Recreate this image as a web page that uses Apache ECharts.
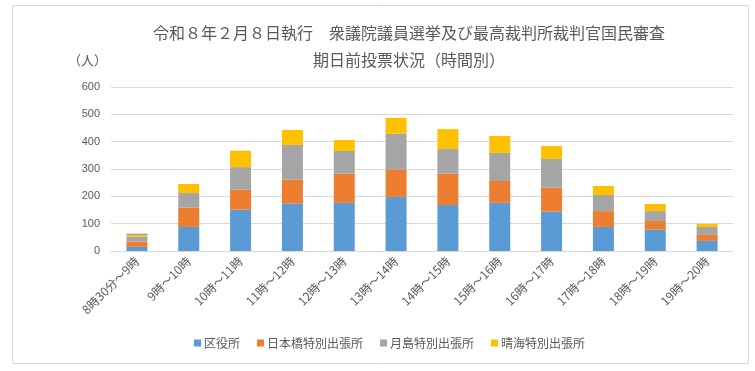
<!DOCTYPE html>
<html><head><meta charset="utf-8">
<script src="https://cdn.jsdelivr.net/npm/echarts@6/dist/echarts.min.js"></script>
<style>html,body{margin:0;padding:0;background:#fff}#c{width:755px;height:371px}</style>
</head><body><div id="c"></div>
<script>
const categories = ['8時30分～9時','9時～10時','10時～11時','11時～12時','12時～13時','13時～14時','14時～15時','15時～16時','16時～17時','17時～18時','18時～19時','19時～20時'];
const kuyakusho = [15, 88, 151, 173, 176, 198, 168, 176, 144, 88, 78, 37];
const nihonbashi = [20, 71, 73, 88, 107, 100, 115, 80, 88, 58, 32, 22];
const tsukishima = [17, 53, 83, 127, 83, 131, 90, 103, 105, 59, 36, 29];
const harumi = [8, 33, 60, 55, 40, 58, 73, 62, 47, 33, 26, 11];
const other = [3, 0, 0, 0, 0, 0, 0, 0, 0, 0, 0, 0];
const yTicks = [0, 100, 200, 300, 400, 500, 600];

const font = '"Noto Sans CJK JP", "Noto Sans", sans-serif';
const chart = echarts.init(document.getElementById('c'));
const mk = (name, data, color) => ({
  name, type: 'bar', stack: 't', data, barWidth: 21,
  itemStyle: { color }, emphasis: { disabled: true }
});
chart.setOption({
  animation: false,
  textStyle: { fontFamily: font },
  title: {
    text: '令和８年２月８日執行　衆議院議員選挙及び最高裁判所裁判官国民審査\n期日前投票状況（時間別）',
    left: 404, top: 14, textAlign: 'center',
    textStyle: { fontSize: 16, fontWeight: 'normal', color: '#595959', lineHeight: 27, fontFamily: font }
  },
  graphic: [
    { type: 'rect', shape: { x: 12.5, y: 5.5, width: 736, height: 358 }, style: { fill: 'none', stroke: '#D9D9D9', lineWidth: 1 }, silent: true },
    { type: 'text', left: 68, top: 54, style: { text: '（人）', fontSize: 13, fill: '#595959', fontFamily: font } }
  ],
  legend: {
    data: ['区役所','日本橋特別出張所','月島特別出張所','晴海特別出張所'],
    bottom: 17, left: 189,
    itemWidth: 7, itemHeight: 7, itemGap: 17, icon: 'rect',
    textStyle: { fontSize: 12, color: '#595959', fontFamily: font, padding: [0, 0, 0, -2] }
  },
  grid: { left: 111, right: 22, top: 87, bottom: 120, containLabel: false },
  xAxis: {
    type: 'category', data: categories,
    axisLine: { lineStyle: { color: '#D9D9D9' } },
    axisTick: { show: false },
    axisLabel: { rotate: 45, fontSize: 12, color: '#595959', interval: 0, margin: 8, fontFamily: font }
  },
  yAxis: {
    type: 'value', min: yTicks[0], max: yTicks[yTicks.length - 1], interval: 100,
    axisLine: { show: false }, axisTick: { show: false },
    splitLine: { lineStyle: { color: '#D9D9D9' } },
    axisLabel: { fontSize: 11, color: '#595959', margin: 11, fontFamily: 'Liberation Sans, Arial, sans-serif' }
  },
  series: [
    mk('区役所', kuyakusho, '#5B9BD5'),
    mk('日本橋特別出張所', nihonbashi, '#ED7D31'),
    mk('月島特別出張所', tsukishima, '#A5A5A5'),
    mk('晴海特別出張所', harumi, '#FFC000'),
    mk('その他', other, '#4472C4')
  ]
});
</script></body></html>
